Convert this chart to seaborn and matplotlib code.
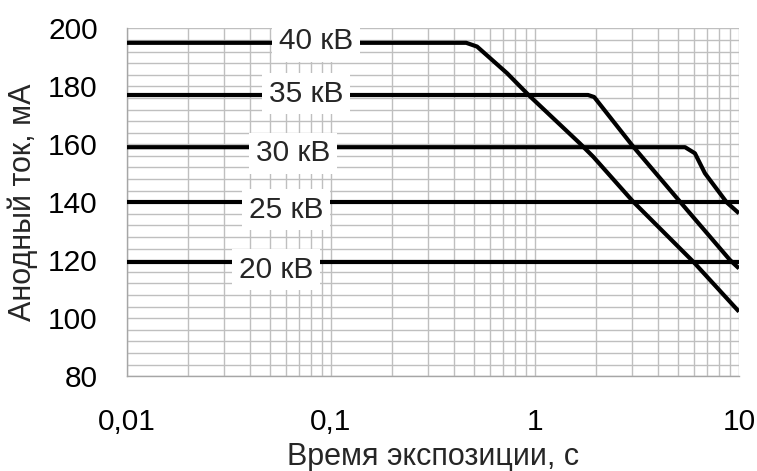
import matplotlib
matplotlib.use("Agg")
import matplotlib.pyplot as plt
import matplotlib.ticker as mticker
import seaborn as sns
import pandas as pd

# ---- data ----
kv_labels = ["40 кВ", "35 кВ", "30 кВ", "25 кВ", "20 кВ"]

t40 = [0.01, 0.46, 0.52, 0.73, 0.93, 1.66, 1.93, 3.03, 5.97, 10]
i40 = [195, 195, 193.7, 184.5, 177, 160.3, 155.7, 140.2, 119.5, 102.3]

t35 = [0.01, 1.82, 1.95, 3.03, 5.14, 9.03, 10]
i35 = [177, 177, 176.3, 159.2, 140.2, 120.1, 117.2]

t30 = [0.01, 5.44, 6.08, 6.81, 8.7, 10]
i30 = [159, 159, 156.9, 150, 140, 136.2]

t25 = [0.01, 10]
i25 = [140, 140]

t20 = [0.01, 10]
i20 = [119.5, 119.5]

x_ticks = [0.01, 0.1, 1, 10]
x_tick_labels = ["0,01", "0,1", "1", "10"]
y_ticks = [80, 100, 120, 140, 160, 180, 200]

# label anchor positions (data coords)
label_x = [0.0844, 0.0754, 0.0651, 0.0602, 0.0537]
label_y = [195.6, 177.4, 156.9, 137.4, 116.7]

series_t = [t40, t35, t30, t25, t20]
series_i = [i40, i35, i30, i25, i20]

frames = []
for name, t, i in zip(kv_labels, series_t, series_i):
    frames.append(pd.DataFrame({"t": t, "I": i, "kv": name}))
df = pd.concat(frames, ignore_index=True)

# ---- style ----
sns.set_style("white")
plt.rcParams["font.family"] = ["Liberation Sans", "DejaVu Sans"]

fig = plt.figure(figsize=(7.57, 4.71), dpi=100)
ax = fig.add_axes([0.1678, 0.2011, 0.8084, 0.7388])

sns.lineplot(data=df, x="t", y="I", hue="kv", units="kv", estimator=None,
             palette=["black"] * len(kv_labels), sort=False, legend=False,
             lw=3, ax=ax, zorder=3, solid_joinstyle="round",
             solid_capstyle="butt")

ax.set_xscale("log")
ax.set_xlim(0.01, 10)
ax.set_ylim(80, 200)

ax.xaxis.set_major_locator(mticker.FixedLocator(x_ticks))
ax.xaxis.set_major_formatter(mticker.FixedFormatter(x_tick_labels))
ax.xaxis.set_minor_locator(mticker.LogLocator(base=10, subs=range(2, 10)))
ax.xaxis.set_minor_formatter(mticker.NullFormatter())
ax.yaxis.set_major_locator(mticker.FixedLocator(y_ticks))
ax.yaxis.set_minor_locator(mticker.MultipleLocator(4))

grid_c = "#bfbfbf"
ax.grid(True, which="both", color=grid_c, lw=1.0)
ax.set_axisbelow(True)

for s in ["top", "right"]:
    ax.spines[s].set_visible(False)
for s in ["left", "bottom"]:
    ax.spines[s].set_color("#a6a6a6")
    ax.spines[s].set_linewidth(1.0)

ax.tick_params(axis="both", which="major", direction="out", length=7,
               width=1.0, color="#a6a6a6", labelsize=21.5, labelcolor="black")
ax.tick_params(axis="x", which="major", pad=16)
ax.tick_params(axis="y", which="major", pad=14)
ax.tick_params(axis="both", which="minor", length=0)

ax.set_xlabel("Время экспозиции, с", fontsize=22)
ax.set_ylabel("Анодный ток, мА", fontsize=22)
ax.xaxis.set_label_coords(0.5, -0.19)
ax.yaxis.set_label_coords(-0.145, 0.5)

for lab, x, y in zip(kv_labels, label_x, label_y):
    ax.text(x, y, lab, fontsize=21.5, ha="center", va="center", zorder=5,
            bbox=dict(boxstyle="square,pad=0.22", fc="white", ec="none"))

fig.savefig("out.png", dpi=100)
